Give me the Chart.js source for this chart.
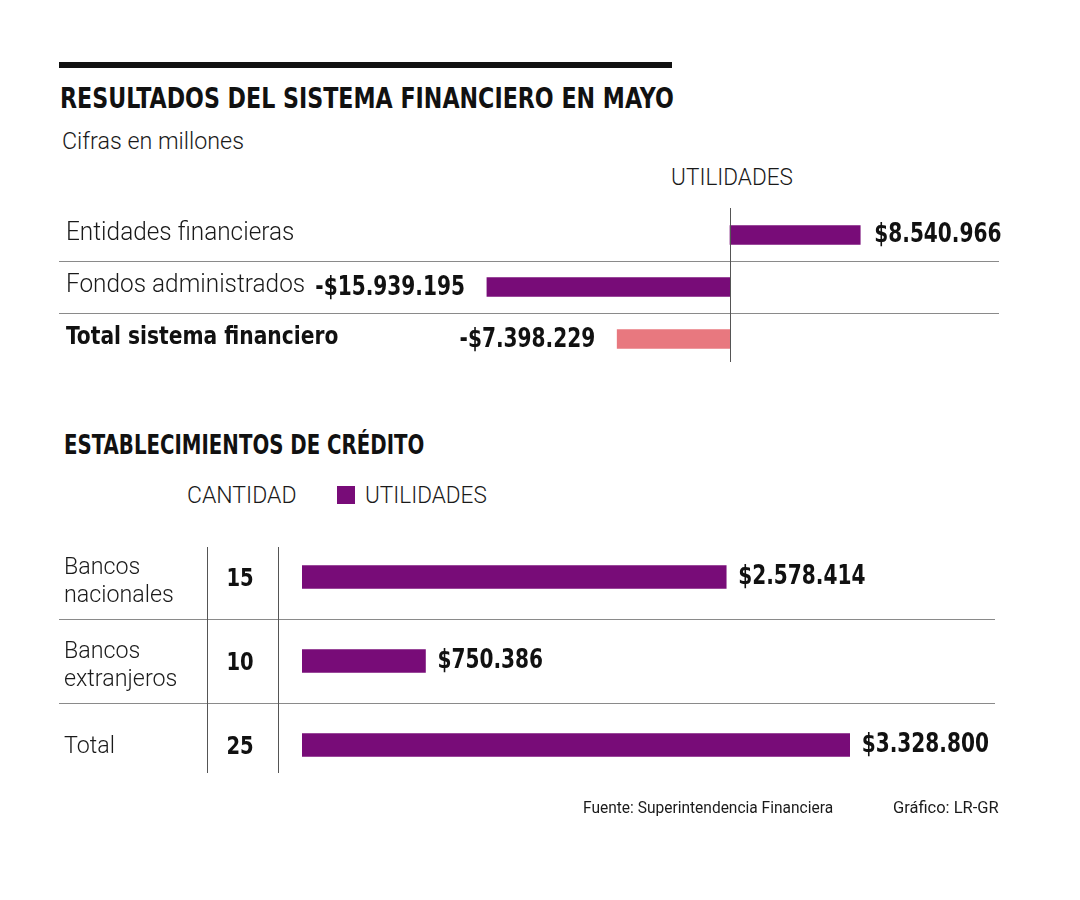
<!DOCTYPE html>
<html><head><meta charset="utf-8">
<script src="https://cdn.jsdelivr.net/npm/chart.js@4.4.1/dist/chart.umd.min.js"></script>
<style>
body{margin:0;background:#fff;width:1080px;height:900px;position:relative;overflow:hidden;color:#111}
.t{position:absolute;white-space:nowrap;line-height:1;transform-origin:0 0}
.b{font-family:"DejaVu Sans Condensed","DejaVu Sans",sans-serif;font-weight:bold}
.l{font-family:Roboto,"Open Sans",sans-serif;font-weight:300;color:#1a1a1a}
.box{position:absolute;left:0;width:1080px}
</style></head><body>
<div style="position:absolute;left:59px;top:62px;width:613px;height:6px;background:#111"></div>
<div class="t b" style="left:60px;top:84px;font-size:29px;transform:scaleX(0.85)">RESULTADOS DEL SISTEMA FINANCIERO EN MAYO</div>
<div class="t l" style="left:62px;top:129px;font-size:24px;transform:scaleX(0.97)">Cifras en millones</div>
<div class="t l" style="left:732px;top:166px;font-size:23px;transform:translateX(-50%) scaleX(0.98);transform-origin:50% 0">UTILIDADES</div>
<div class="box" style="top:200px;height:175px"><canvas id="c1"></canvas></div>
<div class="t b" style="left:64px;top:432px;font-size:26px;transform:scaleX(0.845)">ESTABLECIMIENTOS DE CRÉDITO</div>
<div class="t l" style="left:187px;top:484px;font-size:23px">CANTIDAD</div>
<div style="position:absolute;left:337px;top:486px;width:18px;height:18px;background:#780c78"></div>
<div class="t l" style="left:365px;top:484px;font-size:23px;transform:scaleX(0.98)">UTILIDADES</div>
<div class="box" style="top:530px;height:270px"><canvas id="c2"></canvas></div>
<div class="t l" style="left:583px;top:800px;font-size:16px;font-weight:400;transform:scaleX(0.97)">Fuente: Superintendencia Financiera</div>
<div class="t l" style="left:893px;top:800px;font-size:16px;font-weight:400;transform:scaleX(1.03)">Gráfico: LR-GR</div>
<script>
// ---- Data ----
const categories1 = ['Entidades financieras', 'Fondos administrados', 'Total sistema financiero'];
const utilidades1 = [8540966, -15939195, -7398229];

const categories2 = [['Bancos', 'nacionales'], ['Bancos', 'extranjeros'], ['Total']];
const cantidad2 = [15, 10, 25];
const utilidades2 = [2578414, 750386, 3328800];

// ---- Style ----
const PURPLE = '#780c78';
const PINK = '#e8787f';
const BOLD = 'bold 26px "DejaVu Sans Condensed","DejaVu Sans",sans-serif';
const LIGHT = '300 25px Roboto,"Open Sans",sans-serif';
const LINE = '#8a8a8a';

function fmt(v) {
  const s = Math.abs(v).toString().replace(/\B(?=(\d{3})+(?!\d))/g, '.');
  return (v < 0 ? '-' : '') + '$' + s;
}
function txt(ctx, s, x, y, align, sx) {
  ctx.save();
  ctx.translate(x, y);
  ctx.scale(sx, 1);
  ctx.textAlign = align;
  ctx.fillText(s, 0, 0);
  ctx.restore();
}

const tablePlugin1 = {
  id: 'table1',
  afterDatasetsDraw(chart) {
    const ctx = chart.ctx, x = chart.scales.x, y = chart.scales.y, a = chart.chartArea;
    const meta = chart.getDatasetMeta(0);
    ctx.save();
    ctx.strokeStyle = LINE; ctx.lineWidth = 1;
    for (let i = 1; i < categories1.length; i++) {
      const yy = Math.round((y.getPixelForValue(i - 1) + y.getPixelForValue(i)) / 2) + 0.5;
      ctx.beginPath(); ctx.moveTo(59, yy); ctx.lineTo(999, yy); ctx.stroke();
    }
    const x0 = Math.round(x.getPixelForValue(0)) + 0.5;
    ctx.strokeStyle = '#555';
    ctx.beginPath(); ctx.moveTo(x0, a.top - 1); ctx.lineTo(x0, a.bottom - 3); ctx.stroke();
    ctx.textBaseline = 'middle';
    categories1.forEach((c, i) => {
      const cy = y.getPixelForValue(i);
      const last = i === categories1.length - 1;
      ctx.fillStyle = '#111';
      if (last) { ctx.font = 'bold 25px "DejaVu Sans Condensed","DejaVu Sans",sans-serif'; txt(ctx, c, 66, cy - 2, 'left', 0.9); }
      else { ctx.fillStyle = '#1a1a1a'; ctx.font = LIGHT; txt(ctx, c, 66, cy - 1, 'left', 0.975); }
      const v = utilidades1[i];
      const bx = meta.data[i].x;
      ctx.fillStyle = '#111';
      ctx.font = BOLD;
      if (v >= 0) txt(ctx, fmt(v), bx + 14, cy, 'left', 0.86);
      else txt(ctx, fmt(v), bx - 22, cy + 1, 'right', 0.86);
    });
    ctx.restore();
  }
};

new Chart(document.getElementById('c1'), {
  type: 'bar',
  data: {
    labels: categories1,
    datasets: [{
      label: 'UTILIDADES',
      data: utilidades1,
      backgroundColor: utilidades1.map((v, i) => i === utilidades1.length - 1 ? PINK : PURPLE),
      barThickness: 19,
      borderWidth: 0
    }]
  },
  options: {
    indexAxis: 'y',
    responsive: true, maintainAspectRatio: false, animation: false,
    layout: { padding: { left: 59, right: 81, top: 9, bottom: 10 } },
    plugins: { legend: { display: false }, tooltip: { enabled: false } },
    scales: {
      x: { display: false, min: -44000000, max: 17640000 },
      y: { display: false }
    }
  },
  plugins: [tablePlugin1]
});

const tablePlugin2 = {
  id: 'table2',
  afterDatasetsDraw(chart) {
    const ctx = chart.ctx, y = chart.scales.y, a = chart.chartArea;
    const meta = chart.getDatasetMeta(0);
    ctx.save();
    ctx.strokeStyle = LINE; ctx.lineWidth = 1;
    for (let i = 1; i < categories2.length; i++) {
      const yy = Math.round((y.getPixelForValue(i - 1) + y.getPixelForValue(i)) / 2) + 0.5;
      ctx.beginPath(); ctx.moveTo(59, yy); ctx.lineTo(995, yy); ctx.stroke();
    }
    ctx.strokeStyle = '#555';
    [207.5, 278.5].forEach(xx => {
      ctx.beginPath(); ctx.moveTo(xx, a.top + 12); ctx.lineTo(xx, a.bottom - 14); ctx.stroke();
    });
    ctx.textBaseline = 'middle';
    categories2.forEach((lines, i) => {
      const cy = y.getPixelForValue(i);
      ctx.fillStyle = '#1a1a1a';
      ctx.font = '300 24px Roboto,"Open Sans",sans-serif';
      const n = lines.length;
      lines.forEach((ln, k) => {
        const off = n === 1 ? 2 : 5 + (k - (n - 1) / 2) * 28;
        txt(ctx, ln, 64, cy + off, 'left', 0.97);
      });
      ctx.fillStyle = '#111';
      ctx.font = 'bold 25px "DejaVu Sans Condensed","DejaVu Sans",sans-serif';
      txt(ctx, String(cantidad2[i]), 240, cy + 2, 'center', 0.87);
      ctx.font = BOLD;
      txt(ctx, fmt(utilidades2[i]), meta.data[i].x + 12, cy, 'left', 0.86);
    });
    ctx.restore();
  }
};

new Chart(document.getElementById('c2'), {
  type: 'bar',
  data: {
    labels: categories2.map(l => l.join(' ')),
    datasets: [{
      label: 'UTILIDADES',
      data: utilidades2,
      backgroundColor: PURPLE,
      barThickness: 23,
      borderWidth: 0
    }]
  },
  options: {
    indexAxis: 'y',
    responsive: true, maintainAspectRatio: false, animation: false,
    layout: { padding: { left: 302, right: 87, top: 5, bottom: 13 } },
    plugins: { legend: { display: false }, tooltip: { enabled: false } },
    scales: {
      x: { display: false, min: 0, max: 4200000 },
      y: { display: false }
    }
  },
  plugins: [tablePlugin2]
});
</script>
</body></html>
